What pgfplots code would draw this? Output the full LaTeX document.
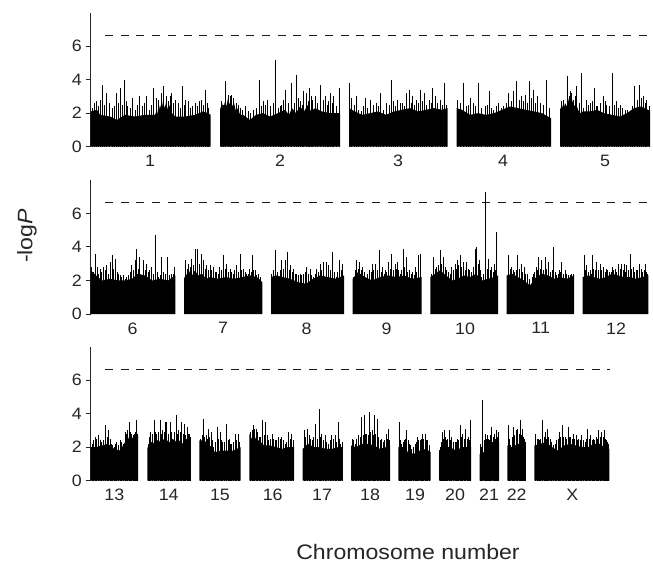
\documentclass[border=0pt]{standalone}
\usepackage{pgfplots}
\pgfplotsset{compat=1.18}
\usepackage{fontspec}
\setmainfont{Liberation Sans}
\newcommand{\base}[1]{\addplot[fill=black,draw=none,forget plot] coordinates {#1};}
\pgfplotsset{panel/.style={
  anchor=south west, x=1pt, y=16.77pt,
  xmin=90.7, xmax=652, ymin=0, ymax=8,
  axis lines=left, axis line style={-, line width=1pt, black!85},
  x axis line style={draw=none},
  ytick={0,2,4,6}, xtick style={draw=none},
  ytick style={line width=1pt, black!85},
  tick align=outside, major tick length=5pt,
  tick label style={font=\fontsize{16.5}{16.5}\selectfont, text=black!85, xscale=1.08},
  /pgf/number format/assume math mode=true,
  enlargelimits=false,
},
spk/.style={ycomb, black, line width=0.75pt, mark=none},
thr/.style={black!90, line width=1.2pt, dash pattern=on 8pt off 7.7pt}}
\begin{document}
\begin{tikzpicture}
\useasboundingbox (0,0) rectangle (653pt,-563pt);
% ---------------- Panel 1 ----------------
\begin{axis}[panel, at={(90.7pt,-146.7pt)},
  xtick={150,280,398,503,605}, xticklabels={1,2,3,4,5}]
\base{(90.7,0)(90.7,2.1)(97,2.2)(100,1.9)(110,1.8)(117,1.6)(125,1.9)(135,1.8)(145,1.9)(155,1.9)(157,2.2)(158,1.9)(160,2.5)(161.5,2.2)(163,2.7)(164.5,2.3)(166,2.6)(168,2.2)(170,2.5)(172,2.0)(175,1.8)(185,1.8)(195,1.9)(203,2.1)(208,2.0)(210.7,1.9)(210.7,0)}
\base{(220,0)(220,2.2)(222,2.6)(223.5,2.3)(225,2.7)(226.5,2.4)(228,2.9)(229.5,2.5)(231,2.8)(232.5,2.4)(234,2.6)(236,2.1)(238,2.3)(240,1.9)(243,1.9)(250,1.6)(256,1.9)(263,2.0)(270,1.8)(278,2.0)(285,2.2)(289,1.9)(292,2.3)(296,2.0)(300,2.4)(304,2.1)(308,2.5)(311,2.1)(315,2.3)(322,2.1)(330,2.0)(340,2.0)(340,0)}
\base{(349,0)(349,2.3)(355,2.1)(362,1.9)(370,2.0)(378,2.1)(386,1.9)(394,2.1)(402,2.2)(410,2.3)(418,2.1)(426,2.2)(434,2.3)(442,2.2)(447.7,2.3)(447.7,0)}
\base{(456.7,0)(456.7,2.3)(462,2.2)(470,1.9)(478,2.0)(486,1.9)(494,2.0)(502,2.2)(510,2.4)(518,2.3)(526,2.2)(534,2.1)(542,2.0)(548,1.8)(551,1.7)(551,0)}
\base{(560,0)(560,2.2)(562,2.5)(563.5,2.2)(565,2.6)(567,2.4)(569,2.9)(570.5,2.5)(572,2.8)(574,2.4)(576,2.6)(578,2.2)(580,2.0)(583,2.1)(590,2.1)(597,2.2)(604,2.0)(612,1.9)(620,1.8)(627,2.0)(634,2.3)(641,2.4)(648,2.2)(650,2.1)(650,0)}
\addplot[spk] coordinates {
(94.3,2.6)(96.7,2.7)(100,2.8)(102.7,3.7)(106.7,3.2)(109,2.6)(112.3,2.3)(116.7,3.2)(120.7,3.5)(124,4.0)(127.7,2.4)(132.3,2.9)(135,2.2)(139.3,3.0)(146.7,3.0)(149,2.2)(153.7,3.5)(158.3,2.8)(161,3.2)(163.3,3.6)(166.7,3.0)(170,3.0)(171.7,3.2)(175,2.8)(178.3,2.6)(182.3,3.6)(185.7,2.8)(188.3,2.7)(192.7,2.4)(195,2.6)(199,2.7)(201.7,2.8)(205.3,3.4)(208.3,2.3)
(92,2.3)(98.5,2.4)(104.5,2.5)(114.5,2.4)(118.7,2.6)(122.3,2.5)(126,2.7)(130,2.3)(137,2.5)(142,2.4)(144,2.6)(151,2.5)(156,2.9)(168.5,2.7)(173.5,2.6)(180,2.3)(184,2.5)(190.5,2.3)(197,2.4)(203.5,2.5)(207,2.6)
(221.3,2.7)(225.3,3.9)(228.3,3.1)(230,3.0)(231.7,3.1)(233.3,2.9)(236.7,2.6)(240,2.3)(245,2.4)(250,2.0)(253.3,2.2)(259.3,3.95)(263.3,2.7)(267.3,2.8)(270.7,2.4)(275,5.2)(278.3,2.3)(281.7,2.5)(285.7,3.4)(288.7,2.6)(291.7,3.8)(296.7,4.25)(300,2.7)(303.3,3.3)(306,3.2)(309.3,3.5)(312.3,2.8)(315.3,3.0)(320.5,3.7)(325,3.0)(328.3,2.7)(330,3.2)(333.3,3.0)(339.3,3.5)
(223,2.5)(238.5,2.5)(242.5,2.2)(248,2.1)(256,2.3)(261.5,2.4)(265.5,2.5)(273,2.6)(280,2.4)(283.5,2.8)(294,2.6)(298.5,2.9)(302,2.5)(308,2.7)(311,3.0)(317.5,2.6)(323,2.8)(327,2.5)(332,2.6)(336,2.4)
(349.7,3.8)(351.7,2.9)(356,3.0)(358.3,2.2)(361.7,2.1)(365,2.9)(370,2.8)(373.3,2.5)(376.7,2.6)(380.7,3.2)(383.3,2.2)(386.7,2.6)(391.7,4.0)(395,2.4)(397.3,2.8)(400,2.6)(402.7,2.6)(406,3.2)(409.3,3.4)(412.7,3.0)(416,2.8)(420,3.4)(424,3.2)(426.7,2.5)(429,2.8)(432,3.5)(435,3.0)(440,2.8)(444.3,3.8)(446.7,2.5)
(354,2.5)(363.5,2.4)(367.5,2.3)(378.5,2.4)(389,2.5)(393.5,2.7)(404.5,2.4)(411,2.6)(414.5,2.5)(418,2.6)(422,2.7)(431,2.6)(437.5,2.6)(442,2.5)
(457.3,2.8)(460,2.6)(463.7,3.8)(466.7,2.4)(470.7,2.9)(473.3,2.6)(478.3,3.8)(481.7,2.3)(485,2.4)(489.3,3.3)(493.3,2.2)(498.3,2.6)(503.3,2.4)(508.7,3.2)(513.3,3.3)(516,3.9)(519.3,2.8)(521.7,3.0)(525.7,3.1)(529.3,3.9)(533.3,3.4)(537.3,3.0)(540.7,2.6)(546.7,4.0)
(468.5,2.5)(475.5,2.4)(487,2.5)(491,2.3)(496,2.4)(501,2.3)(506,2.6)(511,2.7)(523.5,2.7)(527.5,2.6)(531.5,2.9)(535.5,2.6)(543.5,2.5)(549,2.3)
(561.7,2.7)(565,2.5)(567.7,4.2)(570,3.3)(571.7,3.2)(573.3,2.8)(576.7,3.6)(581,4.4)(583.3,2.3)(586.7,2.8)(590,2.6)(594,3.5)(597.3,2.4)(603.3,3.0)(606.7,2.5)(612,4.4)(616,2.7)(620,2.5)(625,2.2)(630,2.1)(634.7,3.6)(639.3,3.7)(643.3,3.0)(646.7,2.8)(649.3,2.4)
(563.5,2.8)(569,3.0)(575,3.0)(579,2.6)(588.5,2.5)(592,2.7)(596,2.4)(600,2.6)(605,2.7)(609.5,2.4)(614,2.5)(618,2.3)(622.5,2.3)(627.5,2.2)(632.5,2.4)(637,2.8)(641.5,2.9)(645,2.6)
};
\addplot[thr] coordinates {(105,6.65)(652,6.65)};
\end{axis}
% ---------------- Panel 2 ----------------
\begin{axis}[panel, at={(90.7pt,-314pt)},
  xtick={132.7,223,306.7,386.7,465,540.7,616}, xticklabels={6,7,8,9,10,11,12}]
\base{(90.7,0)(90.7,2.6)(96,2.3)(102,2.0)(110,2.1)(118,2.0)(125,2.0)(132,2.1)(138,2.4)(145,2.3)(152,2.0)(160,2.1)(168,2.0)(175.3,2.3)(175.3,0)}
\base{(184,0)(184,2.1)(186,2.4)(188,2.2)(190,2.6)(192,2.3)(195,2.6)(198,2.3)(202,2.4)(206,2.1)(210,2.2)(218,2.1)(226,2.2)(234,2.1)(242,2.2)(250,2.3)(257,2.2)(262.3,1.9)(262.3,0)}
\base{(271,0)(271,2.2)(276,2.3)(283,2.2)(290,2.1)(298,1.9)(306,1.8)(313,2.1)(320,2.3)(328,2.2)(336,2.1)(344,2.3)(344,0)}
\base{(352.7,0)(352.7,2.1)(358,2.5)(365,2.2)(372,2.0)(380,2.2)(388,2.3)(396,2.2)(404,2.3)(412,2.1)(421.7,2.2)(421.7,0)}
\base{(430.3,0)(430.3,2.2)(435,2.4)(440,2.6)(446,2.3)(452,2.0)(458,2.1)(464,2.3)(470,2.2)(476,2.4)(482,2.0)(488,2.1)(494,2.2)(498,2.3)(498,0)}
\base{(506.7,0)(506.7,2.3)(512,2.4)(518,2.2)(524,2.0)(530,1.7)(536,2.2)(542,2.4)(548,2.3)(554,2.1)(560,2.2)(567,2.1)(574,2.3)(574,0)}
\base{(582.7,0)(582.7,2.2)(588,2.3)(594,2.2)(600,2.1)(606,2.2)(612,2.4)(618,2.3)(624,2.2)(630,2.2)(636,2.1)(642,2.2)(648.3,2.3)(648.3,0)}
\addplot[spk] coordinates {
(91.7,2.8)(95,3.6)(97.3,2.8)(100,2.7)(103.3,2.8)(106.7,2.9)(110,3.1)(112,3.5)(115,3.3)(118.3,2.4)(121.7,2.2)(125,2.1)(128.3,2.3)(131.7,2.9)(135,3.2)(136.7,3.9)(139.3,3.4)(141.7,2.2)(143.3,3.2)(146.7,3.0)(149.3,2.6)(151.7,2.8)(155.3,4.7)(158.3,2.2)(161.7,3.4)(165,2.4)(167.7,3.4)(171.7,2.4)(174.3,2.8)
(93.5,2.5)(98.8,2.4)(101.7,2.5)(105,2.6)(108.5,2.4)(113.5,2.7)(117,2.5)(120,2.3)(123.5,2.3)(126.5,2.2)(130,2.5)(133.5,2.6)(138,2.7)(145,2.6)(148,2.5)(153.5,2.4)(157,2.5)(160,2.3)(163.5,2.5)(169.5,2.3)(173,2.4)
(185.3,3.2)(188.7,3.0)(191.7,3.3)(195,3.9)(197.7,3.9)(201,3.6)(203.3,3.2)(206.7,2.9)(210,2.9)(213.3,2.8)(216.7,2.5)(219.3,2.8)(223.3,3.5)(226.7,3.0)(230,2.7)(233.3,2.4)(236,2.9)(240,3.6)(243.3,2.7)(246.7,2.4)(249.3,2.7)(252.3,3.5)(255,2.6)(258.3,2.4)
(187,2.7)(190,2.8)(193.3,2.9)(199.5,3.0)(205,2.7)(208.5,2.6)(211.7,2.6)(215,2.5)(218,2.4)(221.5,2.6)(225,2.7)(228.5,2.5)(231.7,2.5)(234.7,2.6)(238,2.5)(241.7,2.6)(245,2.5)(248,2.4)(251,2.5)(253.7,2.6)(256.7,2.3)(260,2.2)
(271.7,2.4)(275.3,3.8)(278.3,2.2)(281.7,3.2)(285,3.2)(287.7,3.7)(290.7,2.9)(293.3,2.7)(296.7,2.4)(300,2.4)(303.3,2.4)(306.7,2.8)(310,2.7)(313.3,2.2)(316.7,2.7)(320,3.0)(323.3,3.1)(326.7,3.1)(328.5,2.9)(332.7,3.7)(336,2.2)(339.3,3.2)(342.7,3.0)
(273.5,2.6)(277,2.5)(280,2.6)(283.3,2.7)(289,2.6)(292,2.5)(295,2.4)(298.3,2.3)(301.7,2.3)(305,2.5)(308.3,2.4)(311.7,2.3)(315,2.4)(318.3,2.5)(321.7,2.6)(330.5,2.6)(334.5,2.5)(337.7,2.5)(341,2.6)
(353.3,2.2)(356.7,3.2)(359.3,3.1)(362.7,2.8)(366,2.0)(369.3,2.6)(372.7,3.0)(375,3.0)(379.3,3.8)(382.7,2.8)(385,2.6)(388.3,3.1)(391.7,3.6)(395,3.0)(397.3,3.1)(400,2.4)(403,3.9)(406,3.4)(409.3,2.6)(412.7,2.5)(415,2.8)(418.3,3.5)(420.7,3.6)
(355,2.6)(358,2.7)(361,2.6)(364.5,2.5)(367.7,2.4)(371,2.5)(373.8,2.6)(377,2.6)(381,2.5)(384,2.4)(386.7,2.5)(390,2.7)(393.3,2.6)(396.2,2.7)(398.7,2.6)(401.5,2.6)(404.5,2.8)(407.7,2.5)(411,2.4)(414,2.3)(416.7,2.5)
(431.7,2.4)(433.3,3.4)(436.7,2.8)(440,3.8)(443.3,3.4)(446.7,2.6)(451.7,2.8)(455,3.0)(457.3,3.2)(460,3.5)(463.3,3.1)(466.7,3.1)(469.3,2.6)(471.7,2.5)(475,3.9)(476.7,4.0)(479.3,3.2)(481.7,2.2)(485.3,7.25)(488.3,3.3)(491.7,2.8)(494,3.0)(496.7,4.9)
(435,2.7)(438.3,2.9)(441.7,3.0)(445,2.8)(448.3,2.5)(450,2.4)(453.3,2.6)(456.2,2.7)(458.7,2.9)(461.7,2.8)(465,2.6)(468,2.7)(473.3,2.8)(478,3.0)(480.5,2.6)(483.5,2.4)(487,2.7)(490,2.6)(493,2.5)(495.5,2.6)
(508.3,3.5)(511.7,2.8)(514.3,2.5)(517.7,3.5)(521,3.0)(524,2.8)(527.3,2.4)(533.3,2.4)(536,2.8)(538.3,3.4)(541.7,3.2)(545,3.4)(548.3,3.1)(550.7,2.4)(553.3,4.0)(556.7,2.3)(559.3,2.6)(561.7,3.1)(565,2.6)(568.3,2.3)(571.7,2.4)
(510,2.7)(513,2.6)(516,2.6)(519.3,2.7)(522.5,2.5)(525.7,2.4)(529,2.1)(532,2.2)(534.7,2.5)(537.2,2.6)(540,2.7)(543.3,2.6)(546.7,2.7)(550,2.5)(552,2.6)(555,2.5)(558,2.4)(560.5,2.5)(563.3,2.4)(566.7,2.4)(570,2.3)(573,2.4)
(584,3.5)(586.7,2.9)(590,2.6)(592,3.5)(595,2.6)(596.7,3.1)(600,3.0)(603.3,2.8)(606,2.7)(609.3,2.5)(612,2.8)(615,2.7)(618.3,3.0)(621.7,3.0)(624,3.0)(626.7,2.9)(630,3.6)(633.3,2.8)(636,2.6)(639.3,3.0)(642.7,2.5)(645,3.0)(647.3,2.4)
(585.5,2.6)(588.3,2.5)(591,2.4)(593.5,2.7)(598.3,2.6)(601.7,2.6)(605,2.5)(607.7,2.6)(611,2.5)(613.5,2.6)(616.7,2.5)(620,2.7)(623,2.6)(625.3,2.5)(628.3,2.6)(631.7,2.7)(634.7,2.5)(637.7,2.6)(641,2.7)(644,2.6)(646,2.5)
};
\addplot[thr] coordinates {(105,6.65)(648,6.65)};
\end{axis}
% ---------------- Panel 3 ----------------
\begin{axis}[panel, at={(90.7pt,-480.7pt)},
  xtick={114.3,168.7,220,272.7,322,370,415,455,489,516.7,572.3},
  xticklabels={13,14,15,16,17,18,19,20,21,22,X}]
\base{(90.7,0)(90.7,2.0)(96,2.0)(102,2.1)(108,2.2)(114,1.9)(120,1.8)(124,2.2)(126,2.4)(128,2.6)(130,2.3)(133,2.6)(135,2.4)(138,2.7)(138,0)}
\base{(147.3,0)(147.3,1.9)(150,2.4)(153,2.2)(156,2.5)(159,2.3)(162,2.6)(165,2.3)(168,2.4)(171,2.2)(174,2.5)(177,2.2)(180,2.4)(183,2.2)(186,2.5)(190.7,2.3)(190.7,0)}
\base{(199.3,0)(199.3,2.4)(204,2.4)(210,2.1)(215,1.7)(221,1.8)(227,1.8)(233,1.8)(240.7,2.0)(240.7,0)}
\base{(249.3,0)(249.3,2.8)(251.5,2.5)(254,2.7)(256.5,2.4)(259,2.4)(264,2.1)(270,2.1)(276,2.0)(282,1.9)(288,2.0)(294,2.0)(294,0)}
\base{(302.7,0)(302.7,1.9)(308,2.2)(314,2.0)(320,2.0)(326,1.9)(332,1.9)(338,2.0)(342.3,2.0)(342.3,0)}
\base{(351,0)(351,2.1)(356,2.0)(362,2.2)(368,2.2)(374,2.1)(380,1.9)(386,2.0)(390,2.1)(390,0)}
\base{(398.3,0)(398.3,2.0)(403,2.0)(408,1.7)(414,1.6)(420,1.8)(426,1.9)(430.7,1.7)(430.7,0)}
\base{(439,0)(439,1.8)(444,2.0)(450,2.0)(456,1.8)(462,2.0)(468,2.0)(471,2.0)(471,0)}
\base{(479.7,0)(479.7,1.6)(484,1.7)(488,2.3)(494,2.3)(499,2.3)(499,0)}
\base{(507.3,0)(507.3,2.1)(512,2.0)(518,2.2)(525.7,2.0)(525.7,0)}
\base{(534.3,0)(534.3,2.1)(540,2.2)(546,2.3)(552,2.0)(558,1.8)(564,2.1)(570,2.2)(576,2.1)(582,2.0)(588,2.0)(594,2.2)(600,2.2)(606,1.9)(609.3,1.9)(609.3,0)}
\addplot[spk] coordinates {
(95,2.6)(98.3,2.7)(101.7,2.3)(105.3,3.3)(108.3,3.0)(111,2.2)(114,2.0)(116.7,2.3)(120,2.4)(125,2.9)(127.7,3.0)(129.3,3.5)(131.7,2.8)(134.3,2.8)(136.7,3.6)
(92,2.2)(93.5,2.4)(96.7,2.5)(100,2.4)(103.5,2.4)(107,2.6)(110,2.5)(112.5,2.1)(115.3,2.2)(118.3,2.1)(121.7,2.3)(123.3,2.2)(126.3,2.8)(130.5,2.9)(133,2.7)(135.5,2.9)(137.5,2.8)
(148.3,2.2)(150.7,2.9)(154.3,3.6)(156.7,2.8)(160,3.6)(162.7,3.0)(165,3.5)(166.7,3.5)(170,3.5)(172.7,2.5)(176,3.9)(178.7,3.0)(181.7,3.5)(184,3.4)(187.3,3.2)(189.3,2.8)
(149.5,2.6)(152.5,2.8)(155.5,2.9)(158.3,2.9)(161.3,2.8)(164,2.9)(168.3,2.8)(171.3,2.9)(174.3,2.9)(177.3,2.8)(180.2,2.9)(183,2.8)(185.7,2.7)(188.3,2.8)(190,2.6)
(200.7,2.5)(203.3,3.7)(206,2.7)(208.3,3.1)(211,2.9)(213.3,2.0)(217.3,3.2)(220,2.9)(222.7,2.3)(226.7,3.4)(229.3,2.5)(231.7,2.2)(235,2.8)(238.3,2.8)
(202,2.7)(204.7,2.6)(207.2,2.5)(209.7,2.6)(212,2.4)(215,2.3)(218.7,2.5)(221.3,2.4)(224.3,2.3)(228,2.4)(230.5,2.2)(233.3,2.3)(236.7,2.4)(239.7,2.3)
(250.7,2.9)(253.3,3.3)(256,3.1)(259,2.6)(262.7,3.6)(265.7,3.5)(268.3,2.4)(272.3,2.8)(275,2.4)(278.3,2.6)(281.7,2.6)(285,2.2)(288.3,2.9)(291.7,2.8)
(252,3.0)(254.7,3.1)(257.5,2.9)(260.5,2.6)(264.2,2.7)(267,2.7)(270,2.5)(273.7,2.5)(276.7,2.4)(280,2.5)(283.3,2.4)(286.7,2.3)(290,2.5)(293,2.4)
(304,3.0)(307.3,3.1)(310,2.5)(315,3.4)(319.3,4.3)(321.7,2.8)(325,2.7)(328.3,2.2)(331.7,2.7)(335,2.7)(338.3,3.5)(340.7,2.2)
(305.7,2.6)(309,2.7)(312,2.4)(313.5,2.6)(317,2.5)(320.5,2.6)(323.3,2.4)(326.7,2.3)(330,2.4)(333.3,2.5)(336.7,2.3)(339.5,2.5)(342,2.3)
(352.3,2.5)(355,2.2)(358.3,2.7)(361.7,3.8)(364.3,3.9)(366.7,2.8)(369.3,4.1)(372,3.0)(374,3.9)(377.3,3.7)(380,2.4)(383.3,2.3)(386,2.8)(388.3,3.1)
(353.7,2.4)(356.7,2.5)(360,2.6)(363,2.7)(365.5,2.8)(368,2.7)(370.7,2.9)(373,2.7)(375.7,2.8)(378.7,2.6)(381.7,2.5)(384.7,2.4)(387.3,2.5)(389.5,2.4)
(399.3,3.5)(401.7,2.2)(404,2.4)(406.7,3.0)(409.3,2.2)(411.7,1.9)(415,2.2)(417.3,2.6)(420,2.4)(422.3,2.8)(425,2.8)(427.3,2.4)
(400.5,2.4)(403,2.3)(405.3,2.5)(408,2.4)(410.5,2.1)(413.3,2.0)(416.2,2.3)(418.7,2.4)(421.2,2.5)(423.7,2.5)(426.2,2.4)(429,2.1)
(440,2.0)(442,2.9)(444.3,3.0)(446.7,2.4)(449,3.0)(451.7,2.6)(455,2.3)(457.3,2.5)(460,3.3)(462.7,2.8)(465.7,3.1)(468,2.6)(470,3.6)
(441,2.3)(443.2,2.5)(445.5,2.6)(447.8,2.5)(450.3,2.4)(453.3,2.3)(456.2,2.3)(458.7,2.4)(461.3,2.6)(464.2,2.5)(467,2.5)(469,2.4)
(480.7,2.2)(482.7,4.8)(485,2.8)(487.3,2.7)(490,2.7)(491.7,3.2)(494,2.8)(496.7,3.0)(498.3,2.9)
(481.7,2.0)(484,2.4)(486.2,2.5)(488.5,2.5)(489,2.4)(493,2.6)(495.3,2.5)(497.5,2.6)
(508.7,3.3)(510.7,2.1)(513.3,3.2)(516,3.0)(517.7,3.1)(520,3.6)(522.3,3.1)(524.3,2.5)
(509.7,2.5)(512,2.6)(514.7,2.7)(519,2.8)(521.2,2.7)(523.3,2.6)(525,2.3)
(535.3,2.8)(538.3,2.5)(540.7,2.5)(542.3,3.6)(545,2.9)(547,3.1)(550,2.5)(553.3,2.1)(556.7,2.4)(559.3,2.9)(562,3.3)(565,2.6)(568,3.2)(570.7,2.6)(573.3,2.8)(576,2.7)(578.3,2.5)(581.7,2.7)(585,2.3)(587.7,3.1)(590.7,2.7)(593.3,2.5)(596,2.6)(598.7,3.0)(601.7,2.9)(604,3.0)(606.7,2.4)(608.7,2.2)
(537,2.5)(539.5,2.4)(544,2.6)(546,2.5)(548.5,2.6)(551.7,2.3)(555,2.2)(558,2.5)(560.7,2.6)(563.5,2.6)(566.5,2.5)(569.3,2.6)(572,2.5)(574.7,2.5)(577.2,2.4)(580,2.4)(583.3,2.4)(586.3,2.5)(589.2,2.5)(592,2.4)(594.7,2.4)(597.3,2.5)(600.2,2.6)(603,2.6)(605.3,2.5)(607.7,2.3)
};
\addplot[thr] coordinates {(105,6.65)(610,6.65)};
\end{axis}
% ---------------- Axis titles ----------------
\node[rotate=90, text=black!85] at (27pt,-236pt) {\fontsize{21}{21}\selectfont\scalebox{1.1}[1]{-log\textit{P}}};
\node[text=black!85] at (408pt,-552pt) {\fontsize{21}{21}\selectfont\scalebox{1.1}[1]{Chromosome number}};
\end{tikzpicture}
\end{document}
